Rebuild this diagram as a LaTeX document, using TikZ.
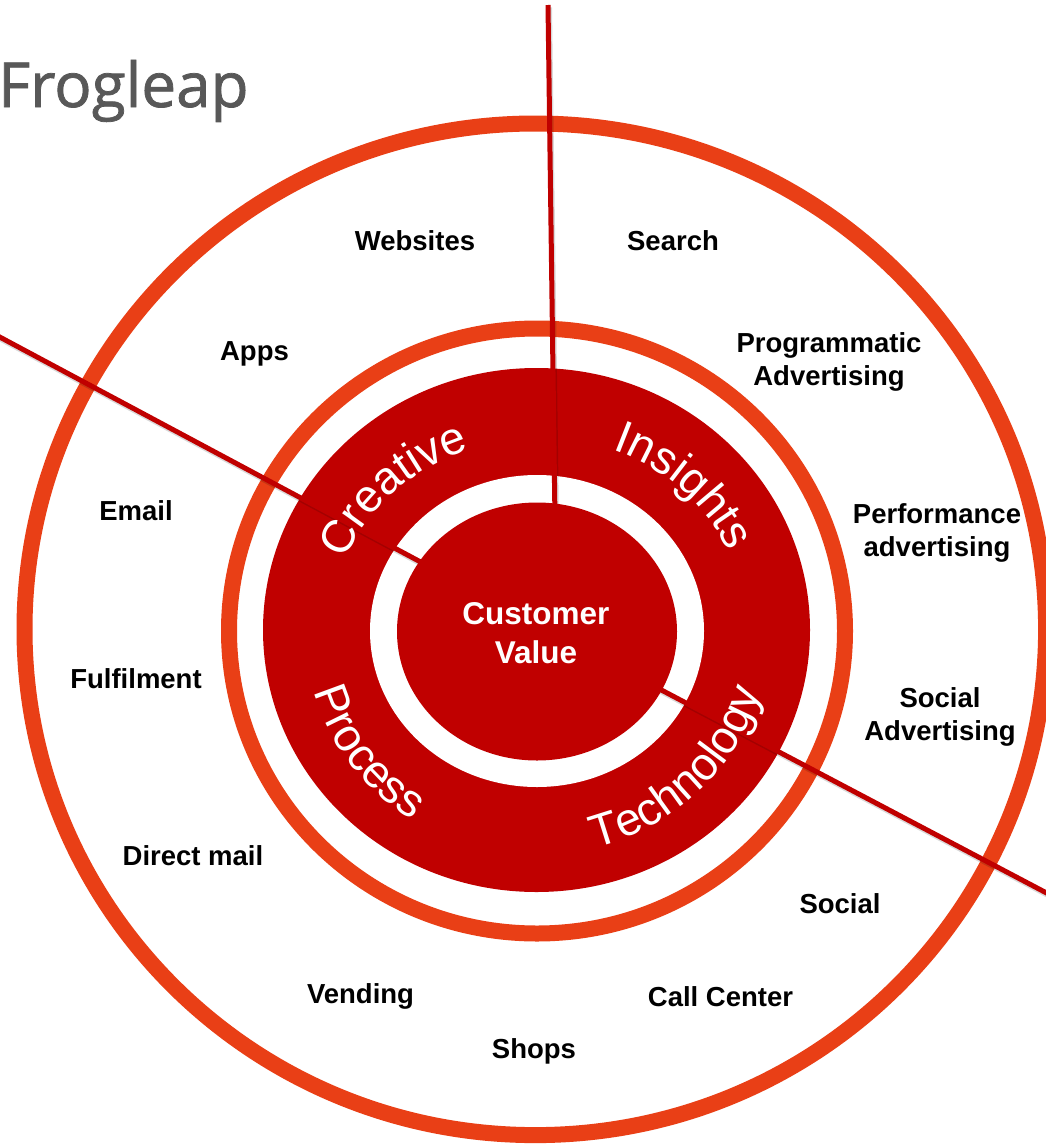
\documentclass[tikz,border=0pt]{standalone}
\usepackage{fontspec}
\setmainfont{Liberation Sans}
\newfontfamily\frogfont{Open Sans}[FakeBold=1.2]
\usetikzlibrary{decorations.text,calc}
\definecolor{ringorange}{RGB}{233,63,22}
\definecolor{deepred}{RGB}{192,0,0}
\definecolor{froggray}{RGB}{88,88,88}
\newcommand\crvfont{\fontsize{46}{46}\selectfont}
\begin{document}
\begin{tikzpicture}[x=1pt,y=1pt,
  ring/.style={draw=ringorange,line width=16pt},
  spoke/.style={draw=deepred,line width=5pt},
  spokeshadow/.style={draw=black,opacity=0.15,line width=5pt,transform canvas={shift={(1.5pt,-2.5pt)}}},
  label/.style={font=\fontsize{27.5}{33}\selectfont\bfseries,align=center,anchor=base,inner sep=0pt},
  curvedtext/.style={decorate,decoration={text along path,text align=center,text color=white,text={#1}}}
]
\useasboundingbox (0,0) rectangle (1045,-1146);
\fill[white] (0,0) rectangle (1045,-1146);
\coordinate (C) at (537,-631);
% rings and disks
\draw[ring] (535.3,-629.3) ellipse [x radius=510.8pt, y radius=505.8pt];
\draw[ring] (537,-631) ellipse [x radius=308pt, y radius=302.5pt];
\fill[deepred] (536.5,-630) ellipse [x radius=273.5pt, y radius=262pt];
\fill[white] (537,-631) ellipse [x radius=167pt, y radius=156pt];
% spokes
\coordinate (t1) at (548,-5);
\coordinate (t2) at (555,-520);
\coordinate (l1) at (-5,-334.5);
\coordinate (l2) at (430,-567);
\coordinate (r1) at (650,-684);
\coordinate (r2) at (1058,-899);
\draw[spokeshadow] (t1) -- (t2);
\draw[spokeshadow] (l1) -- (l2);
\draw[spokeshadow] (r1) -- (r2);
\draw[spoke] (t1) -- (t2);
\draw[spoke] (l1) -- (l2);
\draw[spoke] (r1) -- (r2);
% inner disk
\fill[deepred] (537,-631.5) ellipse [x radius=140pt, y radius=129pt];
% curved texts
\path[curvedtext={|\crvfont|Creative}] ($(C)+(200:207pt and 192pt)$) arc[start angle=200, end angle=70, x radius=207pt, y radius=192pt];
\path[curvedtext={|\crvfont|Insights}] ($(C)+(110:210pt and 195pt)$) arc[start angle=110, end angle=-20, x radius=210pt, y radius=195pt];
\path[curvedtext={|\crvfont|Technology}] ($(C)+(-110:232pt and 224pt)$) arc[start angle=-110, end angle=20, x radius=232pt, y radius=224pt];
\path[curvedtext={|\crvfont|Process}] ($(C)+(151:232pt and 224pt)$) arc[start angle=151, end angle=281, x radius=232pt, y radius=224pt];
% centre text (base anchor = last line's baseline)
\node[font=\fontsize{31.5}{38.5}\selectfont\bfseries, text=white, align=center, anchor=base, inner sep=0pt] (cv) at (536,-663) {Customer\\Value};
% title
\node[font=\frogfont\fontsize{62}{62}\selectfont, text=froggray, anchor=base west, inner sep=0pt] (title) at (-2,-107) {Frogleap};
% channel labels
\node[label] (websites) at (415,-250) {Websites};
\node[label] (search) at (673,-250) {Search};
\node[label] (apps) at (254.5,-360) {Apps};
\node[label] (prog) at (829,-385) {Programmatic\\Advertising};
\node[label] (email) at (136,-520) {Email};
\node[label] (perf) at (937,-556) {Performance\\advertising};
\node[label] (fulfil) at (136,-688) {Fulfilment};
\node[label] (socadv) at (940,-740) {Social\\Advertising};
\node[label] (direct) at (193,-865) {Direct mail};
\node[label] (social) at (840,-913) {Social};
\node[label] (vending) at (360.5,-1003) {Vending};
\node[label] (call) at (720.5,-1006) {Call Center};
\node[label] (shops) at (534,-1058) {Shops};
\end{tikzpicture}
\end{document}
